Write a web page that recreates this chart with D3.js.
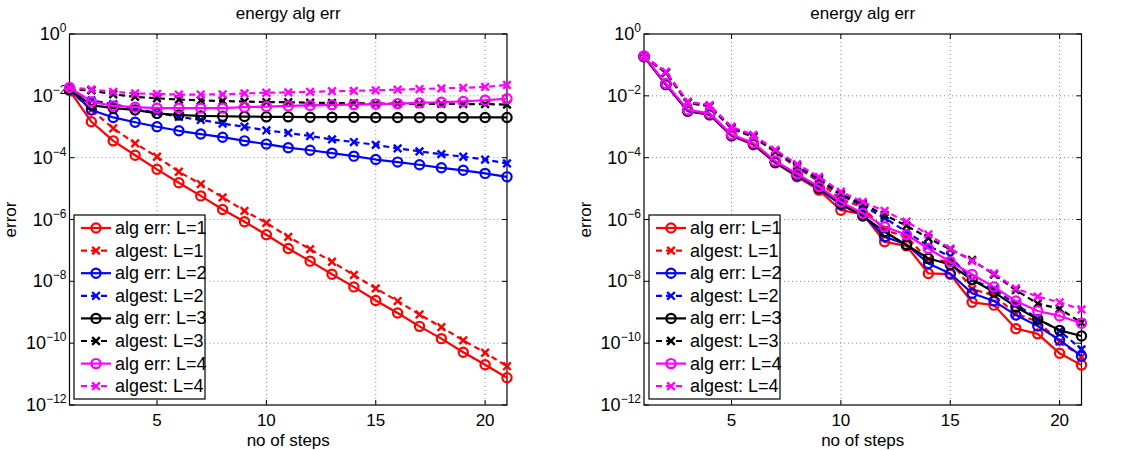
<!DOCTYPE html>
<html><head><meta charset="utf-8">
<script src="https://cdn.jsdelivr.net/npm/d3@7/dist/d3.min.js"></script>
<style>
html,body{margin:0;padding:0;background:#fff;}
svg{display:block;font-family:"Liberation Sans",Arial,Helvetica,sans-serif;}
</style></head>
<body>
<svg id="chart" width="1125" height="450"></svg>
<script>
// ---------------- DATA ----------------
const steps = [1,2,3,4,5,6,7,8,9,10,11,12,13,14,15,16,17,18,19,20,21];
const xTicks = [5,10,15,20];
const yTickExps = [0,-2,-4,-6,-8,-10,-12];
const seriesLabels = ["alg err: L=1","algest: L=1","alg err: L=2","algest: L=2","alg err: L=3","algest: L=3","alg err: L=4","algest: L=4"];
const seriesColors = ["#ff0000","#ff0000","#0000ff","#0000ff","#000000","#000000","#ff00ff","#ff00ff"];
const panelTitles = ["energy alg err","energy alg err"];
const xLabel = "no of steps";
const yLabel = "error";

// left panel
const leftErrL1 = [1.5e-2,1.45e-3,3.5e-4,1.2e-4,4.2e-5,1.55e-5,5.8e-6,2.1e-6,8.5e-7,3.2e-7,1.15e-7,4.5e-8,1.7e-8,6.6e-9,2.4e-9,9.5e-10,3.5e-10,1.4e-10,5.1e-11,2.0e-11,7.6e-12];
const leftEstL1 = [1.5e-2,3.5e-3,8.9e-4,2.9e-4,1.07e-4,3.5e-5,1.4e-5,5.2e-6,1.9e-6,7.8e-7,2.75e-7,1.1e-7,4.3e-8,1.6e-8,5.9e-9,2.3e-9,8.5e-10,3.3e-10,1.23e-10,4.9e-11,1.8e-11];
const leftErrL2 = [1.6e-2,3.5e-3,2.0e-3,1.4e-3,1.0e-3,7.4e-4,5.8e-4,4.6e-4,3.5e-4,2.75e-4,2.1e-4,1.74e-4,1.4e-4,1.12e-4,8.7e-5,7.2e-5,5.9e-5,4.7e-5,3.9e-5,3.1e-5,2.4e-5];
const leftEstL2 = [1.6e-2,7.1e-3,5.4e-3,3.8e-3,2.8e-3,2.1e-3,1.66e-3,1.26e-3,1.0e-3,7.6e-4,6.3e-4,5.0e-4,3.9e-4,3.2e-4,2.6e-4,2.0e-4,1.6e-4,1.3e-4,1.07e-4,8.7e-5,6.5e-5];
const leftErrL3 = [1.6e-2,5.0e-3,4.0e-3,3.5e-3,2.7e-3,2.4e-3,2.24e-3,2.19e-3,2.14e-3,2.09e-3,2.09e-3,2.04e-3,2.04e-3,2.04e-3,2.0e-3,2.0e-3,2.0e-3,2.0e-3,2.0e-3,2.0e-3,2.0e-3];
const leftEstL3 = [1.6e-2,1.5e-2,1.12e-2,9.3e-3,8.3e-3,7.6e-3,7.1e-3,6.8e-3,6.5e-3,6.3e-3,6.2e-3,6.0e-3,5.9e-3,5.75e-3,5.6e-3,5.6e-3,5.5e-3,5.5e-3,5.4e-3,5.4e-3,5.2e-3];
const leftErrL4 = [1.86e-2,6.5e-3,4.7e-3,4.3e-3,4.0e-3,4.0e-3,4.0e-3,4.0e-3,4.3e-3,4.5e-3,4.7e-3,4.9e-3,5.1e-3,5.2e-3,5.4e-3,5.6e-3,5.9e-3,6.2e-3,6.6e-3,7.2e-3,8.1e-3];
const leftEstL4 = [1.86e-2,1.62e-2,1.35e-2,1.2e-2,1.15e-2,1.1e-2,1.1e-2,1.12e-2,1.2e-2,1.26e-2,1.29e-2,1.35e-2,1.41e-2,1.45e-2,1.51e-2,1.58e-2,1.66e-2,1.74e-2,1.82e-2,1.95e-2,2.24e-2];

// right panel
const rightErrL1 = [1.82e-1,2.3e-2,3.2e-3,2.4e-3,5.0e-4,2.6e-4,6.8e-5,2.4e-5,8.9e-6,2.0e-6,1.5e-6,1.9e-7,1.4e-7,1.8e-8,1.7e-8,2.1e-9,1.7e-9,2.95e-10,2.0e-10,4.7e-11,1.95e-11];
const rightEstL1 = [1.82e-1,5.5e-2,5.9e-3,4.5e-3,8.7e-4,4.6e-4,1.5e-4,4.8e-5,1.66e-5,4.5e-6,2.5e-6,4.5e-7,2.8e-7,5.0e-8,4.5e-8,5.6e-9,3.5e-9,8.9e-10,5.0e-10,1.12e-10,3.6e-11];
const rightErrL2 = [1.86e-1,2.3e-2,3.2e-3,2.5e-3,5.2e-4,2.75e-4,7.1e-5,2.6e-5,1.0e-5,3.0e-6,1.4e-6,2.75e-7,1.55e-7,3.8e-8,1.8e-8,4.1e-9,2.3e-9,8.1e-10,3.6e-10,1.26e-10,3.8e-11];
const rightEstL2 = [1.86e-1,5.6e-2,6.0e-3,4.7e-3,9.1e-4,4.8e-4,1.6e-4,5.2e-5,1.9e-5,6.0e-6,2.8e-6,1.12e-6,4.0e-7,1.4e-7,6.3e-8,1.12e-8,5.6e-9,1.8e-9,6.3e-10,2.5e-10,6.3e-11];
const rightErrL3 = [1.9e-1,2.4e-2,3.3e-3,2.6e-3,5.4e-4,2.8e-4,7.2e-5,2.75e-5,1.05e-5,3.3e-6,1.3e-6,4.0e-7,1.5e-7,5.5e-8,3.5e-8,1.12e-8,4.5e-9,1.5e-9,5.9e-10,2.6e-10,1.7e-10];
const rightEstL3 = [1.9e-1,5.8e-2,6.2e-3,4.8e-3,9.5e-4,5.0e-4,1.66e-4,5.6e-5,2.1e-5,6.6e-6,3.2e-6,1.4e-6,6.3e-7,2.5e-7,1.07e-7,4.9e-8,1.66e-8,5.2e-9,1.9e-9,1.3e-9,4.6e-10];
const rightErrL4 = [1.95e-1,2.5e-2,3.5e-3,2.7e-3,5.6e-4,3.0e-4,7.8e-5,2.95e-5,1.15e-5,3.7e-6,1.6e-6,5.8e-7,3.2e-7,1.15e-7,4.3e-8,1.66e-8,6.6e-9,2.3e-9,1.1e-9,7.6e-10,4.4e-10];
const rightEstL4 = [1.95e-1,6.0e-2,6.5e-3,5.0e-3,1.0e-3,5.4e-4,1.8e-4,6.2e-5,2.4e-5,7.9e-6,3.7e-6,1.9e-6,8.5e-7,3.3e-7,1.15e-7,4.5e-8,1.8e-8,5.9e-9,3.2e-9,2.1e-9,1.23e-9];

const leftSeries = [leftErrL1,leftEstL1,leftErrL2,leftEstL2,leftErrL3,leftEstL3,leftErrL4,leftEstL4];
const rightSeries = [rightErrL1,rightEstL1,rightErrL2,rightEstL2,rightErrL3,rightEstL3,rightErrL4,rightEstL4];

// ---------------- DRAW ----------------
const svg = d3.select("#chart");
const FS = 17;
const R = 4.6, H = 3.8;

function drawPanel(p) {
  const g = svg.append("g");
  const x = d3.scaleLinear().domain([1,21]).range([p.x0,p.x1]);
  const y = d3.scaleLog().domain([1e-12,1]).range([p.y1,p.y0]);

  // grid
  g.append("g").selectAll("line").data(xTicks).join("line")
    .attr("x1",d=>x(d)).attr("x2",d=>x(d)).attr("y1",p.y0).attr("y2",p.y1)
    .attr("stroke","#8a8a8a").attr("stroke-width",1).attr("stroke-dasharray","1,3");
  g.append("g").selectAll("line").data(yTickExps.filter(e=>e!==0 && e!==-12)).join("line")
    .attr("x1",p.x0).attr("x2",p.x1).attr("y1",e=>y(Math.pow(10,e))).attr("y2",e=>y(Math.pow(10,e)))
    .attr("stroke","#8a8a8a").attr("stroke-width",1).attr("stroke-dasharray","1,3");

  // x tick labels
  g.append("g").selectAll("text").data(xTicks).join("text")
    .attr("x",d=>x(d)).attr("y",426).attr("text-anchor","middle")
    .attr("font-size",FS).attr("fill","#000").text(d3.format("d"));

  // y tick labels
  const yl = g.append("g").selectAll("text").data(yTickExps).join("text")
    .attr("x",p.x0-3).attr("y",e=>y(Math.pow(10,e))+6)
    .attr("text-anchor","end").attr("font-size",18).attr("fill","#000");
  yl.append("tspan").text("10");
  yl.append("tspan").attr("dy",-8).attr("font-size",12).text(e=>e===0?"0":"\u2212"+Math.abs(e));

  // ticks inward
  const tl = 5;
  xTicks.forEach(t=>{
    g.append("line").attr("x1",x(t)).attr("x2",x(t)).attr("y1",p.y1).attr("y2",p.y1-tl).attr("stroke","#000");
    g.append("line").attr("x1",x(t)).attr("x2",x(t)).attr("y1",p.y0).attr("y2",p.y0+tl).attr("stroke","#000");
  });
  yTickExps.forEach(e=>{
    const yy = y(Math.pow(10,e));
    g.append("line").attr("x1",p.x0).attr("x2",p.x0+tl).attr("y1",yy).attr("y2",yy).attr("stroke","#000");
    g.append("line").attr("x1",p.x1).attr("x2",p.x1-tl).attr("y1",yy).attr("y2",yy).attr("stroke","#000");
  });
  g.append("rect").attr("x",p.x0).attr("y",p.y0).attr("width",p.x1-p.x0).attr("height",p.y1-p.y0)
    .attr("fill","none").attr("stroke","#000").attr("stroke-width",1.2);

  // series
  const line = d3.line().x((d,i)=>x(steps[i])).y(d=>y(d));
  p.series.forEach((vals,si)=>{
    const col = seriesColors[si];
    const isEst = si%2===1;
    const sg = g.append("g");
    sg.append("path").attr("d",line(vals)).attr("fill","none").attr("stroke",col)
      .attr("stroke-width",2.2).attr("stroke-dasharray",isEst?"6,4":null).attr("stroke-linejoin","round");
    if (!isEst) {
      sg.selectAll("circle").data(vals).join("circle")
        .attr("cx",(d,i)=>x(steps[i])).attr("cy",d=>y(d)).attr("r",R)
        .attr("fill","none").attr("stroke",col).attr("stroke-width",2.2);
    } else {
      sg.selectAll("path.mk").data(vals).join("path").attr("class","mk")
        .attr("d",(d,i)=>{const cx=x(steps[i]),cy=y(d);return `M${cx-H},${cy-H}L${cx+H},${cy+H}M${cx-H},${cy+H}L${cx+H},${cy-H}`;})
        .attr("stroke",col).attr("stroke-width",2.4).attr("fill","none");
    }
  });

  // title, labels
  g.append("text").attr("x",(p.x0+p.x1)/2).attr("y",19).attr("text-anchor","middle")
    .attr("font-size",FS).text(p.title);
  g.append("text").attr("x",(p.x0+p.x1)/2).attr("y",446).attr("text-anchor","middle")
    .attr("font-size",FS).text(xLabel);
  g.append("text").attr("transform",`translate(${p.ylx},${(p.y0+p.y1)/2}) rotate(-90)`)
    .attr("text-anchor","middle").attr("font-size",FS).text(yLabel);

  // legend
  const lg = g.append("g");
  const lx0 = p.legX, ly0 = 215, lw = 131, rowH = 22.6, lh = 184;
  lg.append("rect").attr("x",lx0).attr("y",ly0).attr("width",lw).attr("height",lh)
    .attr("fill","#fff").attr("stroke","#000").attr("stroke-width",1.2);
  seriesLabels.forEach((lab,si)=>{
    const cy = ly0 + 13 + si*rowH;
    const col = seriesColors[si];
    const isEst = si%2===1;
    const sx0 = lx0+7, sx1 = lx0+37, mx = (sx0+sx1)/2;
    lg.append("line").attr("x1",sx0).attr("x2",sx1).attr("y1",cy).attr("y2",cy)
      .attr("stroke",col).attr("stroke-width",2.2).attr("stroke-dasharray",isEst?"6,4":null);
    if (!isEst) {
      lg.append("circle").attr("cx",mx).attr("cy",cy).attr("r",R).attr("fill","none").attr("stroke",col).attr("stroke-width",2.2);
    } else {
      lg.append("path").attr("d",`M${mx-H},${cy-H}L${mx+H},${cy+H}M${mx-H},${cy+H}L${mx+H},${cy-H}`)
        .attr("stroke",col).attr("stroke-width",2.4);
    }
    lg.append("text").attr("x",lx0+41).attr("y",cy+6).attr("font-size",18).text(lab);
  });
}

drawPanel({x0:69.5,x1:507,y0:34,y1:405,series:leftSeries,title:panelTitles[0],ylx:16,legX:74});
drawPanel({x0:644,x1:1081.5,y0:34,y1:405,series:rightSeries,title:panelTitles[1],ylx:591,legX:649});
</script>
</body></html>
